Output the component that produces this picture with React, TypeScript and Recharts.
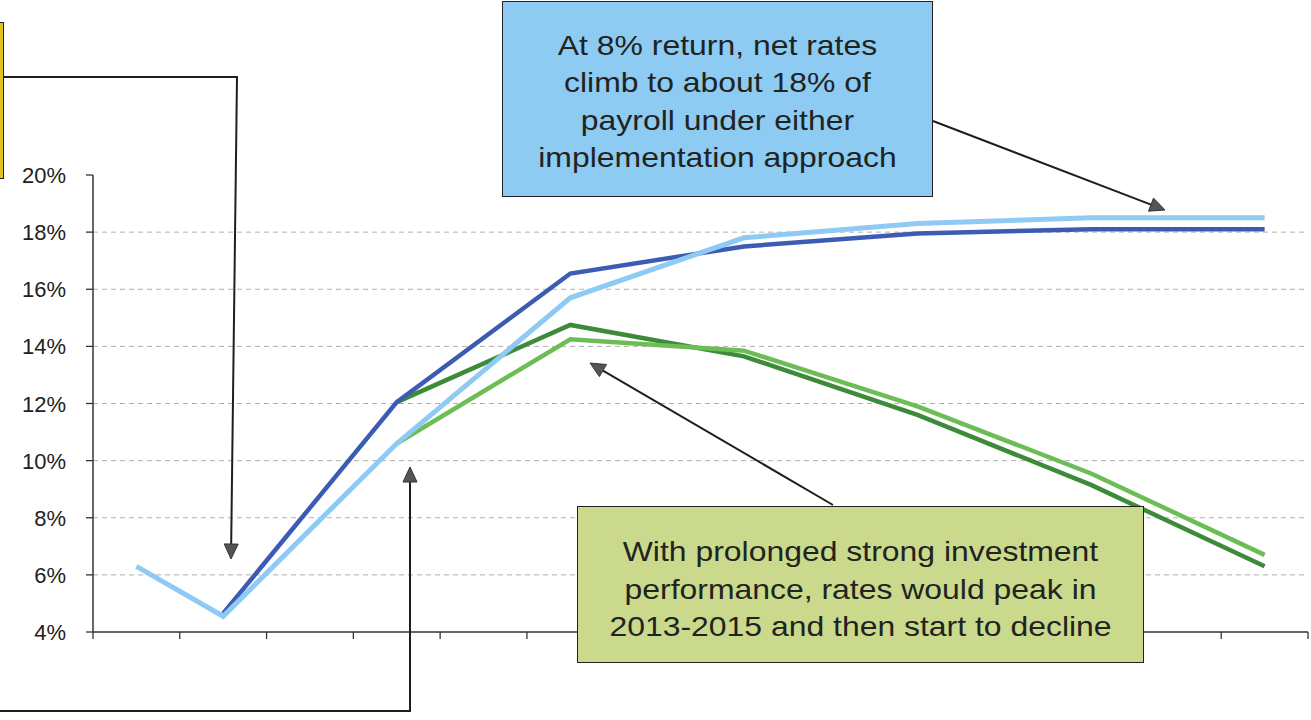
import { LineChart, Line, XAxis, YAxis, ReferenceLine } from "recharts";

// one entry per plotted period; the source leaves the axis labels blank
const years = ["2008", "2009", "2010", "2011", "2012", "2013", "2014", "2015", "2016", "2017", "2018", "2019", "2020", "2021"];

// net employer rate, % of payroll (null = no point for that period)
const baseLight = [6.3, 4.55, null, 10.6, null, 15.7, null, 17.8, null, 18.3, null, 18.5, null, 18.5];
const baseDark = [null, 4.65, null, 12.05, null, 16.55, null, 17.5, null, 17.95, null, 18.1, null, 18.1];
const strongDark = [null, null, null, 12.05, null, 14.75, null, 13.65, null, 11.6, null, 9.15, null, 6.3];
const strongLight = [null, null, null, 10.6, null, 14.25, null, 13.85, null, 11.9, null, 9.55, null, 6.7];

const yTicks = [4, 6, 8, 10, 12, 14, 16, 18, 20];
const gridLevels = [6, 8, 10, 12, 14, 16, 18];
const xTicks = Array.from({ length: years.length + 1 }, (_, i) => i);

const blueNote = ["At 8% return, net rates", "climb to about 18% of", "payroll under either", "implementation approach"];
const greenNote = ["With prolonged strong investment", "performance, rates would peak in", "2013-2015 and then start to decline"];

const data = years.map((year, i) => ({
    year,
    x: i + 0.5,
    baseLight: baseLight[i],
    baseDark: baseDark[i],
    strongDark: strongDark[i],
    strongLight: strongLight[i],
}));

const FONT = '"Liberation Sans", Arial, sans-serif';

type Pt = [number, number];

const PercentTick = ({ x, y, payload }: any) => (
    <text
        x={x - 18}
        y={y}
        dy={8}
        textAnchor="end"
        style={{ fontFamily: FONT, fontSize: "22px", fill: "#222" }}
    >
        {`${payload.value}%`}
    </text>
);

const Arrow = ({ points }: { points: Pt[] }) => {
    const [tx, ty] = points[points.length - 1];
    const [px, py] = points[points.length - 2];
    const len = Math.hypot(tx - px, ty - py);
    const ux = (tx - px) / len;
    const uy = (ty - py) / len;
    const head = 15;
    const half = 7;
    const bx = tx - ux * head;
    const by = ty - uy * head;
    const line = points.slice(0, -1).concat([[bx, by]]);
    return (
        <g>
            <polyline points={line.map((p) => p.join(",")).join(" ")} fill="none" stroke="#1e1e1e" strokeWidth={2} />
            <polygon
                points={`${tx},${ty} ${bx - uy * half},${by + ux * half} ${bx + uy * half},${by - ux * half}`}
                fill="#555"
                stroke="#333"
                strokeWidth={1}
            />
        </g>
    );
};

const NoteBox = ({ lines, left, top, width, height, fill, textTop }: any) => (
    <div
        style={{
            position: "absolute",
            left,
            top,
            width,
            height,
            boxSizing: "border-box",
            background: fill,
            border: "1.8px solid #222",
        }}
    >
        <div
            style={{
                position: "absolute",
                left: 0,
                right: 0,
                top: textTop,
                textAlign: "center",
                fontFamily: FONT,
                fontSize: 28,
                lineHeight: "37.6px",
                color: "#1f2420",
                transform: "scaleX(1.14)",
                whiteSpace: "nowrap",
            }}
        >
            {lines.map((l: string) => (
                <div key={l}>{l}</div>
            ))}
        </div>
    </div>
);

export default function App() {
    return (
        <div style={{ position: "fixed", left: 0, top: 0, width: 1311, height: 720, background: "#fff", overflow: "hidden" }}>
            <LineChart width={1311} height={720} data={data} margin={{ top: 175, right: 3, bottom: 58, left: 0 }}>
                {gridLevels.map((v) => (
                    <ReferenceLine key={v} y={v} stroke="#b0b0b0" strokeDasharray="5 4" strokeWidth={1} />
                ))}
                <XAxis
                    type="number"
                    dataKey="x"
                    domain={[0, years.length]}
                    ticks={xTicks}
                    interval={0}
                    tickFormatter={() => ""}
                    tickSize={7}
                    height={30}
                    axisLine={{ stroke: "#333", strokeWidth: 1.5 }}
                    tickLine={{ stroke: "#333", strokeWidth: 1.3 }}
                />
                <YAxis
                    type="number"
                    domain={[4, 20]}
                    ticks={yTicks}
                    interval={0}
                    width={93}
                    tickSize={7}
                    tick={<PercentTick />}
                    axisLine={{ stroke: "#333", strokeWidth: 1.5 }}
                    tickLine={{ stroke: "#333", strokeWidth: 1.3 }}
                />
                <Line dataKey="strongDark" type="linear" stroke="#3d8b39" strokeWidth={4.5} dot={false} connectNulls isAnimationActive={false} />
                <Line dataKey="strongLight" type="linear" stroke="#6cbd55" strokeWidth={4.5} dot={false} connectNulls isAnimationActive={false} />
                <Line dataKey="baseDark" type="linear" stroke="#3c5bb3" strokeWidth={4.5} dot={false} connectNulls isAnimationActive={false} />
                <Line dataKey="baseLight" type="linear" stroke="#8ecaf3" strokeWidth={5} dot={false} connectNulls isAnimationActive={false} />
            </LineChart>

            <svg width={1311} height={720} style={{ position: "absolute", left: 0, top: 0, pointerEvents: "none" }}>
                <Arrow points={[[3, 77], [237, 77], [231, 559]]} />
                <Arrow points={[[0, 711], [410, 711], [410, 467]]} />
                <Arrow points={[[933, 121], [1165, 210]]} />
                <Arrow points={[[833, 505], [590, 363]]} />
            </svg>

            <div
                style={{
                    position: "absolute",
                    left: -200,
                    top: 22,
                    width: 204,
                    height: 157,
                    boxSizing: "border-box",
                    background: "#e2c21e",
                    border: "1.8px solid #222",
                }}
            />
            <NoteBox lines={blueNote} left={502} top={1} width={431} height={196} fill="#8ecbf3" textTop={24.5} />
            <NoteBox lines={greenNote} left={577} top={506} width={567} height={157} fill="#cad98b" textTop={26} />
        </div>
    );
}
